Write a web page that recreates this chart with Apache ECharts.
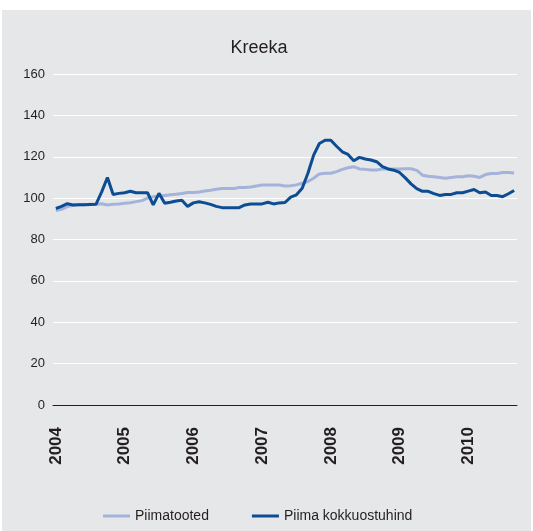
<!DOCTYPE html>
<html>
<head>
<meta charset="utf-8">
<title>Kreeka</title>
<script src="https://cdn.jsdelivr.net/npm/echarts@6/dist/echarts.min.js"></script>
<style>
  html, body { margin: 0; padding: 0; background: #fff; }
  #chart {
    position: absolute;
    left: 2px;
    top: 10px;
    width: 529px;
    height: 521px;
    background: #e6e7e9;
  }
</style>
</head>
<body>
<div id="chart"></div>
<script>
// monthly data, Jan 2004 .. Sep 2010
const years = ['2004', '2005', '2006', '2007', '2008', '2009', '2010'];
const lastMonth = 9; // data ends in September 2010

const piimatooted = [
  94, 94.6, 95.9, 96.5, 96.8, 96.8, 97, 97, 97.3, 96.7, 97, 97.2,
  97.5, 97.8, 98.3, 98.8, 100, 100.7, 101, 101.3, 101.6, 101.9, 102.2, 102.7,
  102.7, 103, 103.4, 103.8, 104.3, 104.6, 104.6, 104.6, 105.1, 105.1, 105.4, 105.9,
  106.3, 106.3, 106.3, 106.3, 105.9, 106, 106.4, 107.2, 108, 109.6, 111.7, 112,
  112, 112.8, 113.9, 114.7, 115.2, 114.1, 113.9, 113.6, 113.6, 114.1, 114.1, 114.1,
  114.1, 114.2, 114.2, 113.4, 111.1, 110.6, 110.3, 110, 109.6, 110, 110.3, 110.3,
  110.8, 110.6, 110, 111.4, 111.9, 111.9, 112.4, 112.4, 112.2
];

const kokkuostuhind = [
  95, 96, 97.3, 96.7, 96.8, 96.8, 96.9, 97, 103, 110, 101.8, 102.3,
  102.6, 103.3, 102.6, 102.6, 102.6, 96.7, 102.3, 97.5, 98, 98.6, 99, 96,
  97.7, 98.2, 97.7, 97, 96, 95.4, 95.4, 95.4, 95.4, 96.7, 97.2, 97.2,
  97.2, 98, 97.2, 97.7, 97.9, 100.5, 101.6, 104.8, 112, 120.8, 126.4, 128,
  128, 125.1, 122.4, 121.1, 118.1, 119.7, 118.9, 118.4, 117.6, 115.2, 114.1, 113.5,
  112.4, 109.8, 106.9, 104.6, 103.3, 103.3, 102.2, 101.3, 101.8, 101.8, 102.6, 102.6,
  103.4, 104.2, 102.6, 103, 101.3, 101.3, 100.7, 102.1, 103.7
];

const categories = [];
years.forEach((y, yi) => {
  const n = yi === years.length - 1 ? lastMonth : 12;
  for (let m = 1; m <= n; m++) {
    categories.push(y + '-' + String(m).padStart(2, '0'));
  }
});

const font = "'Liberation Sans', Arial, Helvetica, sans-serif";
const lightBlue = '#a4b3d9';
const darkBlue = '#0b4c93';

const chart = echarts.init(document.getElementById('chart'));
chart.setOption({
  backgroundColor: 'transparent',
  animation: false,
  title: {
    text: 'Kreeka',
    left: 252,
    top: 24,
    textAlign: 'center',
    textStyle: { fontFamily: font, fontSize: 18, fontWeight: 'normal', color: '#231f20' }
  },
  grid: { left: 51, right: 14, top: 64, bottom: 126, containLabel: false },
  legend: {
    left: 96,
    top: 494,
    icon: 'rect',
    itemWidth: 27,
    itemHeight: 3,
    itemGap: 43,
    textStyle: { fontFamily: font, fontSize: 14, color: '#231f20' },
    data: ['Piimatooted', 'Piima kokkuostuhind']
  },
  xAxis: {
    type: 'category',
    data: categories,
    boundaryGap: true,
    axisLine: { show: true, lineStyle: { color: '#231f20', width: 1 } },
    axisTick: { show: false },
    axisLabel: {
      interval: (index) => index % 12 === 0,
      formatter: (v) => v.slice(0, 4),
      rotate: 90,
      margin: 22,
      fontFamily: font,
      fontSize: 17,
      fontWeight: 'bold',
      color: '#231f20'
    },
    splitLine: { show: false }
  },
  yAxis: {
    type: 'value',
    min: 0,
    max: 160,
    interval: 20,
    axisLine: { show: false },
    axisTick: { show: false },
    axisLabel: { margin: 8, fontFamily: font, fontSize: 13, color: '#231f20' },
    splitLine: { show: true, lineStyle: { color: '#ffffff', width: 1 } }
  },
  series: [
    {
      name: 'Piimatooted',
      type: 'line',
      data: piimatooted,
      symbol: 'none',
      lineStyle: { color: lightBlue, width: 3 },
      itemStyle: { color: lightBlue }
    },
    {
      name: 'Piima kokkuostuhind',
      type: 'line',
      data: kokkuostuhind,
      symbol: 'none',
      lineStyle: { color: darkBlue, width: 3 },
      itemStyle: { color: darkBlue }
    }
  ]
});
</script>
</body>
</html>
